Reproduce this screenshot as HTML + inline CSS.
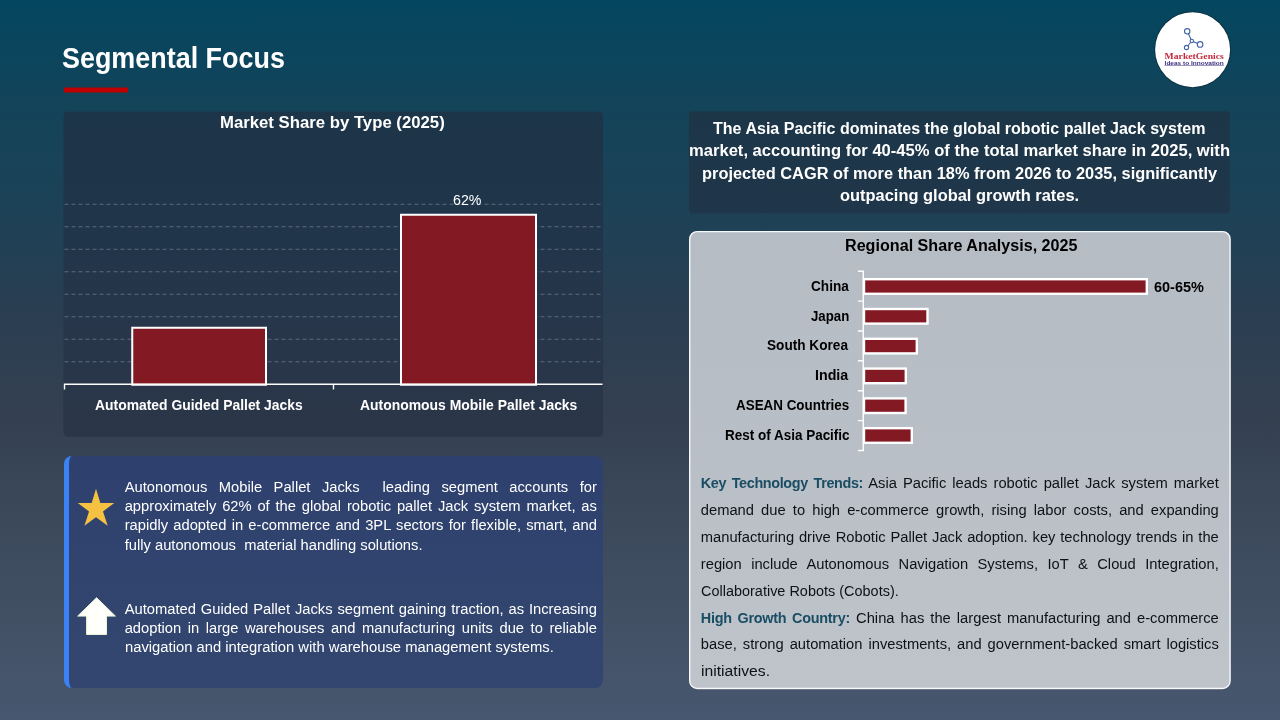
<!DOCTYPE html>
<html lang="en">
<head>
<meta charset="utf-8">
<title>Segmental Focus</title>
<style>
html,body{margin:0;padding:0;}
body{width:1280px;height:720px;overflow:hidden;position:relative;
  font-family:"Liberation Sans",sans-serif;
  background:linear-gradient(180deg,#04465f 0%,#0a455d 7%,#13445a 14%,#1c4257 28%,#293e52 42%,#2f3f52 50%,#344050 58%,#3b485a 70%,#425064 85%,#47576f 100%);}
.t{position:absolute;white-space:nowrap;line-height:1;transform-origin:0 50%;margin:0;}
.abs{position:absolute;}
#bpanel{left:63.8px;top:456px;width:533.8px;height:231.5px;border-radius:8px;border-left:5.4px solid #3b82f6;
  background:linear-gradient(180deg,#2e406e 0%,#31446e 50%,#32466f 100%);background-clip:padding-box;}
svg{position:absolute;left:0;top:0;overflow:visible;}
</style>
</head>
<body>
<div class="abs" id="bpanel"></div>

<svg width="1280" height="720" viewBox="0 0 1280 720">
  <defs>
    <linearGradient id="gg" x1="0" y1="0" x2="0" y2="1"><stop offset="0" stop-color="#b5bcc4"/><stop offset="0.5" stop-color="#b9bfc6"/><stop offset="1" stop-color="#bfc4cb"/></linearGradient>
    <linearGradient id="lg" x1="0" y1="0" x2="0" y2="1"><stop offset="0" stop-color="#1d3548"/><stop offset="0.35" stop-color="#20354a"/><stop offset="0.7" stop-color="#28364a"/><stop offset="1" stop-color="#2b3648"/></linearGradient>
    <linearGradient id="tg" x1="0" y1="0" x2="0" y2="1"><stop offset="0" stop-color="#1c3648"/><stop offset="1" stop-color="#20364a"/></linearGradient>
  </defs>
  <!-- title underline -->
  <rect x="64" y="87.6" width="64" height="4.8" rx="0.8" fill="#c00000"/>
  <!-- dark panels -->
  <rect x="63.4" y="111.4" width="539.7" height="325.3" rx="4.5" fill="url(#lg)"/>
  <rect x="688.8" y="111.2" width="541" height="102.2" rx="4" fill="url(#tg)"/>
  <!-- grey panel -->
  <rect x="689.7" y="232.4" width="540.4" height="457" rx="7.5" fill="#1c2c3c" opacity="0.25"/>
  <rect x="689.7" y="231.6" width="540.4" height="456.9" rx="7.5" fill="url(#gg)" stroke="#f6f8fa" stroke-width="1.4"/>
  <!-- left chart gridlines -->
  <g stroke="#5b6b7b" stroke-width="1" stroke-dasharray="4 3" fill="none">
    <path d="M64.5 204.25H602.5M64.5 226.75H602.5M64.5 249.25H602.5M64.5 271.75H602.5M64.5 294.25H602.5M64.5 316.75H602.5M64.5 339.25H602.5M64.5 361.75H602.5"/>
  </g>
  <!-- left chart bars -->
  <rect x="132.25" y="327.75" width="133.75" height="57" fill="#831923" stroke="#ffffff" stroke-width="2"/>
  <rect x="401" y="214.75" width="135" height="170" fill="#831923" stroke="#ffffff" stroke-width="2"/>
  <!-- axis -->
  <path d="M64.5 389.5V384.25H602.5M333.5 384.25V389.5" stroke="#ffffff" stroke-width="1.4" fill="none"/>

  <!-- star -->
  <polygon fill="#f4c142" points="96,488.7 100.32,502.9 114.3,502.9 103,511.4 107.7,525.8 96,517.3 84.4,525.8 89,511.4 77.7,502.9 91.68,502.9"/>
  <!-- up arrow -->
  <polygon fill="#fffffb" stroke="#ebf4d4" stroke-width="1" points="96.55,597.7 115.4,616.1 106.5,616.1 106.5,634.5 86.6,634.5 86.6,616.1 77.7,616.1"/>

  <!-- right chart -->
  <g fill="#831923" stroke="#ffffff" stroke-width="2.4">
    <rect x="864" y="279.2" width="282.8" height="14.6"/>
    <rect x="864" y="309" width="63.5" height="14.6"/>
    <rect x="864" y="338.8" width="52.8" height="14.6"/>
    <rect x="864" y="368.6" width="41.8" height="14.6"/>
    <rect x="864" y="398.4" width="41.6" height="14.6"/>
    <rect x="864" y="428.2" width="47.8" height="14.6"/>
  </g>
  <path d="M858 271.25H863.25V450.5H858M858 301.1H863.25M858 331H863.25M858 360.8H863.25M858 390.7H863.25M858 420.6H863.25" stroke="#ffffff" stroke-width="1.4" fill="none"/>

  <!-- logo -->
  <circle cx="1192.6" cy="49.7" r="38.3" fill="#0a2a3a"/>
  <circle cx="1192.6" cy="49.7" r="37.5" fill="#ffffff"/>
  <g stroke="#4064a8" stroke-width="1.1" fill="#ffffff">
    <path d="M1187.2 31.3L1191.8 41L1200.1 44.4M1191.8 41L1186.5 47.5" fill="none"/>
    <circle cx="1187.2" cy="31.3" r="2.7"/>
    <circle cx="1200.1" cy="44.4" r="2.8"/>
    <circle cx="1186.5" cy="47.5" r="2.1"/>
    <circle cx="1191.8" cy="41" r="1.7"/>
  </g>
  <text x="1164.6" y="58.6" font-family="'Liberation Serif',serif" font-weight="700" font-size="7.6" fill="#c4283c" textLength="59.2" lengthAdjust="spacingAndGlyphs">MarketGenics</text>
  <text x="1164.6" y="64.6" font-family="'Liberation Sans',sans-serif" font-weight="700" font-size="5.1" fill="#3a2e80" textLength="59.2" lengthAdjust="spacingAndGlyphs">Ideas to Innovation</text>
  <path d="M1164.6 65.5H1223.8" stroke="#3a2e80" stroke-width="0.5"/>
</svg>

<div class="t" style="font-size:28.8px;font-weight:700;color:#ffffff;left:62.37px;top:44.00px;transform:scaleX(0.9347);">Segmental Focus</div>
<div class="t" style="font-size:16.8px;font-weight:700;color:#ffffff;left:220.20px;top:115.00px;transform:scaleX(0.9969);">Market Share by Type (2025)</div>
<div class="t" style="font-size:14.72px;color:#ffffff;left:453.34px;top:193.00px;transform:scaleX(0.9643);">62%</div>
<div class="t" style="font-size:14.4px;font-weight:700;color:#ffffff;left:95.33px;top:398.00px;transform:scaleX(0.9657);">Automated Guided Pallet Jacks</div>
<div class="t" style="font-size:14.4px;font-weight:700;color:#ffffff;left:360.33px;top:398.00px;transform:scaleX(0.9673);">Autonomous Mobile Pallet Jacks</div>
<div class="t" style="font-size:14.72px;color:#ffffff;left:124.70px;top:480.00px;width:472.20px;text-align:justify;text-align-last:justify;">Autonomous Mobile Pallet Jacks&nbsp; leading segment accounts for</div>
<div class="t" style="font-size:14.72px;color:#ffffff;left:124.70px;top:499.00px;width:472.20px;text-align:justify;text-align-last:justify;">approximately 62% of the global robotic pallet Jack system market, as</div>
<div class="t" style="font-size:14.72px;color:#ffffff;left:124.70px;top:518.00px;width:472.20px;text-align:justify;text-align-last:justify;">rapidly adopted in e-commerce and 3PL sectors for flexible, smart, and</div>
<div class="t" style="font-size:14.72px;color:#ffffff;left:124.70px;top:538.00px;">fully autonomous&nbsp; material handling solutions.</div>
<div class="t" style="font-size:14.72px;color:#ffffff;left:124.70px;top:602.00px;width:472.20px;text-align:justify;text-align-last:justify;">Automated Guided Pallet Jacks segment gaining traction, as Increasing</div>
<div class="t" style="font-size:14.72px;color:#ffffff;left:124.70px;top:621.00px;width:472.20px;text-align:justify;text-align-last:justify;">adoption in large warehouses and manufacturing units due to reliable</div>
<div class="t" style="font-size:14.72px;color:#ffffff;left:124.70px;top:640.00px;transform:scaleX(1.0040);">navigation and integration with warehouse management systems.</div>
<div class="t" style="font-size:16.8px;font-weight:700;color:#ffffff;left:712.90px;top:121.00px;transform:scaleX(0.9560);">The Asia Pacific dominates the global robotic pallet Jack system</div>
<div class="t" style="font-size:16.8px;font-weight:700;color:#ffffff;left:688.71px;top:143.00px;transform:scaleX(0.9883);">market, accounting for 40-45% of the total market share in 2025, with</div>
<div class="t" style="font-size:16.8px;font-weight:700;color:#ffffff;left:701.52px;top:166.00px;transform:scaleX(0.9759);">projected CAGR of more than 18% from 2026 to 2035, significantly</div>
<div class="t" style="font-size:16.8px;font-weight:700;color:#ffffff;left:840.42px;top:188.00px;transform:scaleX(0.9789);">outpacing global growth rates.</div>
<div class="t" style="font-size:16.8px;font-weight:700;color:#000000;left:845.14px;top:238.00px;transform:scaleX(0.9612);">Regional Share Analysis, 2025</div>
<div class="t" style="font-size:14.4px;font-weight:700;color:#000000;left:810.69px;top:279.00px;transform:scaleX(0.9454);">China</div>
<div class="t" style="font-size:14.4px;font-weight:700;color:#000000;left:810.83px;top:309.00px;transform:scaleX(0.9187);">Japan</div>
<div class="t" style="font-size:14.4px;font-weight:700;color:#000000;left:767.09px;top:338.00px;transform:scaleX(0.9466);">South Korea</div>
<div class="t" style="font-size:14.4px;font-weight:700;color:#000000;left:814.84px;top:368.00px;transform:scaleX(0.9899);">India</div>
<div class="t" style="font-size:14.4px;font-weight:700;color:#000000;left:735.75px;top:398.00px;transform:scaleX(0.9318);">ASEAN Countries</div>
<div class="t" style="font-size:14.4px;font-weight:700;color:#000000;left:724.87px;top:428.00px;transform:scaleX(0.9366);">Rest of Asia Pacific</div>
<div class="t" style="font-size:14.4px;font-weight:700;color:#000000;left:1153.99px;top:280.00px;transform:scaleX(1.0062);">60-65%</div>
<div class="t" style="font-size:14.72px;color:#0e1116;left:700.80px;top:476.00px;width:518.00px;text-align:justify;text-align-last:justify;"><b style="color:#1a4d63;font-size:14.4px;letter-spacing:-0.35px">Key Technology Trends:</b> Asia Pacific leads robotic pallet Jack system market</div>
<div class="t" style="font-size:14.72px;color:#0e1116;left:700.80px;top:503.00px;width:518.00px;text-align:justify;text-align-last:justify;">demand due to high e-commerce growth, rising labor costs, and expanding</div>
<div class="t" style="font-size:14.72px;color:#0e1116;left:700.80px;top:530.00px;width:518.00px;text-align:justify;text-align-last:justify;">manufacturing drive Robotic Pallet Jack adoption. key technology trends in the</div>
<div class="t" style="font-size:14.72px;color:#0e1116;left:700.80px;top:557.00px;width:518.00px;text-align:justify;text-align-last:justify;">region include Autonomous Navigation Systems, IoT &amp; Cloud Integration,</div>
<div class="t" style="font-size:14.72px;color:#0e1116;left:700.80px;top:584.00px;transform:scaleX(0.9825);">Collaborative Robots (Cobots).</div>
<div class="t" style="font-size:14.72px;color:#0e1116;left:700.80px;top:611.00px;width:518.00px;text-align:justify;text-align-last:justify;"><b style="color:#1a4d63;font-size:14.4px;letter-spacing:-0.25px">High Growth Country:</b> China has the largest manufacturing and e-commerce</div>
<div class="t" style="font-size:14.72px;color:#0e1116;left:700.80px;top:637.00px;width:518.00px;text-align:justify;text-align-last:justify;">base, strong automation investments, and government-backed smart logistics</div>
<div class="t" style="font-size:14.72px;color:#0e1116;left:700.80px;top:664.00px;transform:scaleX(1.0683);">initiatives.</div>
</body>
</html>
